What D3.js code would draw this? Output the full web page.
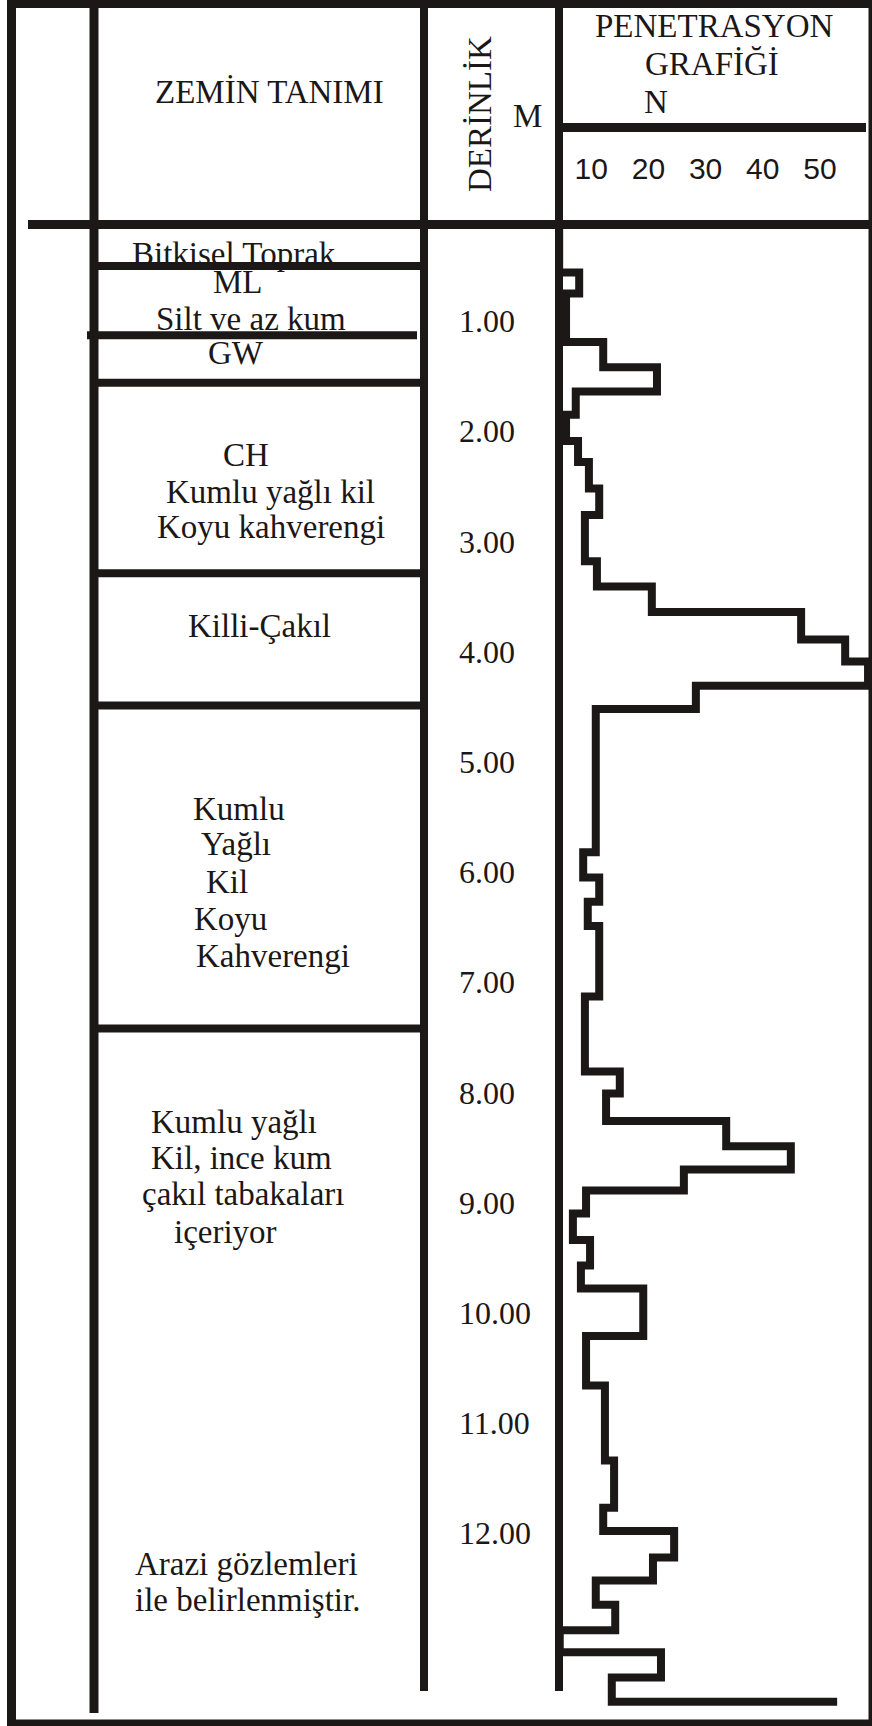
<!DOCTYPE html>
<html>
<head>
<meta charset="utf-8">
<script src="https://cdn.jsdelivr.net/npm/d3@7"></script>
<style>
  html, body { margin: 0; padding: 0; background: #ffffff; }
  svg { display: block; }
  text { font-family: "Liberation Serif", "Times New Roman", serif; fill: #1c1717; }
  .tick-n { font-family: "Liberation Sans", Arial, sans-serif; }
</style>
</head>
<body>
<div id="chart"></div>
<script>
// ---- Boring log data -------------------------------------------------------

// Depth (m) of each change in the penetration profile
const stepDepths = [
  0.00, 0.44, 0.63, 1.07, 1.30, 1.52, 1.73, 1.97, 2.16, 2.40,
  2.64, 3.06, 3.29, 3.52, 3.77, 3.97, 4.19, 4.40, 5.70, 5.93,
  6.15, 6.37, 7.01, 7.69, 7.89, 8.14, 8.37, 8.58, 8.77, 8.98,
  9.22, 9.45, 9.66, 10.09, 10.54, 11.22, 11.65, 11.86, 12.10, 12.31,
  12.53, 12.76, 12.96, 13.19, 13.41
];

// Blow count N for each depth interval; the last value is the closing reading
const blowCounts = [
  4.4, 7.9, 5.6, 12.1, 21.5, 7.3, 5.6, 7.7, 9.6, 11.4,
  8.9, 11.0, 20.6, 46.7, 54.4, 58.4, 28.3, 10.8, 8.6, 11.4,
  9.4, 11.4, 8.9, 15.0, 12.6, 33.6, 44.9, 26.2, 9.1, 6.8,
  9.8, 8.2, 19.1, 9.1, 12.4, 14.0, 12.1, 24.5, 20.8, 10.8,
  14.2, 4.5, 22.2, 13.6, 53.0
];

// Depth scale labels (m) and N scale labels
const depthTicks = [1, 2, 3, 4, 5, 6, 7, 8, 9, 10, 11, 12];
const nTicks = [10, 20, 30, 40, 50];

// Bottom depth (m) of each soil layer boundary drawn in the description column
const layerBottoms = [0.38, 1.01, 1.44, 3.17, 4.37, 7.30];

// Soil description lines, top to bottom
const descriptionLines = [
  "Bitkisel Toprak",
  "ML", "Silt ve az kum",
  "GW",
  "CH", "Kumlu yağlı kil", "Koyu kahverengi",
  "Killi-Çakıl",
  "Kumlu", "Yağlı", "Kil", "Koyu", "Kahverengi",
  "Kumlu yağlı", "Kil, ince kum", "çakıl tabakaları", "içeriyor",
  "Arazi gözlemleri", "ile belirlenmiştir."
];

// Header texts
const headerSoil = "ZEMİN TANIMI";
const headerDepth = "DERİNLİK";
const headerDepthUnit = "M";
const headerGraph = ["PENETRASYON", "GRAFİĞİ", "N"];

// ---- Layout ---------------------------------------------------------------
const W = 872, H = 1726;
const ink = "#1d1818";

const colLeft = 11.5;   // outer left border
const col1 = 94;        // description column left edge
const col2 = 424;       // description / depth separator
const col3 = 559;       // depth / graph separator (graph axis)

// placement of each description line: [x of text start, baseline y]
const descPlacement = [
  [132, 265],
  [213, 293], [156, 330],
  [208, 364],
  [223, 466], [166, 503], [157, 538],
  [188, 637],
  [193, 820], [201, 855], [206, 893], [194, 930], [196, 967],
  [151, 1133], [151, 1169], [142, 1205], [174, 1243],
  [135, 1575], [135, 1611]
];

const svg = d3.select("#chart").append("svg")
  .attr("width", W)
  .attr("height", H)
  .attr("viewBox", `0 0 ${W} ${H}`);

svg.append("rect").attr("width", W).attr("height", H).attr("fill", "#fff");

const y = d3.scaleLinear().domain([0, 14]).range([224, 224 + 14 * 110.2]);
const x = d3.scaleLinear().domain([0, 50]).range([534, 820]);

// ---- Texts ----------------------------------------------------------------
const gText = svg.append("g").attr("font-size", 33);

gText.selectAll("text.desc")
  .data(descriptionLines)
  .join("text")
  .attr("class", "desc")
  .attr("x", (d, i) => descPlacement[i][0])
  .attr("y", (d, i) => descPlacement[i][1])
  .text(d => d);

gText.append("text").attr("x", 155).attr("y", 103).text(headerSoil);

gText.append("text")
  .attr("transform", "translate(491,192) rotate(-90)")
  .text(headerDepth);

gText.append("text").attr("x", 513).attr("y", 127).text(headerDepthUnit);

const graphHeadPos = [[595, 37], [645, 75], [644, 113]];
gText.selectAll("text.ghead")
  .data(headerGraph)
  .join("text")
  .attr("class", "ghead")
  .attr("x", (d, i) => graphHeadPos[i][0])
  .attr("y", (d, i) => graphHeadPos[i][1])
  .text(d => d);

// depth labels
const fmt = d3.format(".2f");
svg.append("g").attr("font-size", 32)
  .selectAll("text")
  .data(depthTicks)
  .join("text")
  .attr("x", 459)
  .attr("y", d => y(d) - 2)
  .text(d => fmt(d));

// N scale labels
svg.append("g").attr("class", "tick-n").attr("font-size", 30)
  .selectAll("text")
  .data(nTicks)
  .join("text")
  .attr("class", "tick-n")
  .attr("x", d => x(d))
  .attr("y", 179)
  .attr("text-anchor", "middle")
  .text(d => d);

// ---- Table rules ----------------------------------------------------------
const gLines = svg.append("g").attr("stroke", ink).attr("fill", "none")
  .attr("stroke-linecap", "butt");

function rule(x1, y1, x2, y2, w) {
  gLines.append("line")
    .attr("x1", x1).attr("y1", y1)
    .attr("x2", x2).attr("y2", y2)
    .attr("stroke-width", w);
}

// outer frame
rule(7, 4, W, 4, 8);
rule(colLeft, 0, colLeft, H, 9);
rule(7, 1723, W, 1723, 7);
rule(W - 1.5, 0, W - 1.5, H, 4);

// header separators
rule(28, 224.5, W, 224.5, 9);
rule(col3, 127.5, 866, 127.5, 9);

// column separators
rule(col1, 0, col1, 1713, 9);
rule(col2, 0, col2, 1691, 8);
rule(col3, 0, col3, 1691, 8);

// soil layer boundaries
layerBottoms.forEach((d, i) => {
  if (i === 1) rule(col1 - 7, y(d), col2 - 7, y(d), 8);
  else rule(col1, y(d), col2, y(d), 8);
});

// ---- Penetration profile --------------------------------------------------
const profilePts = [];
for (let i = 0; i < stepDepths.length - 1; i++) {
  profilePts.push([blowCounts[i], stepDepths[i]]);
  profilePts.push([blowCounts[i], stepDepths[i + 1]]);
}
profilePts.push([blowCounts[blowCounts.length - 1], stepDepths[stepDepths.length - 1]]);

const line = d3.line()
  .x(d => x(d[0]))
  .y(d => y(d[1]));

svg.append("path")
  .datum(profilePts)
  .attr("d", line)
  .attr("fill", "none")
  .attr("stroke", ink)
  .attr("stroke-width", 8)
  .attr("stroke-linejoin", "miter")
  .attr("stroke-miterlimit", 10)
  .attr("stroke-linecap", "butt");
</script>
</body>
</html>
